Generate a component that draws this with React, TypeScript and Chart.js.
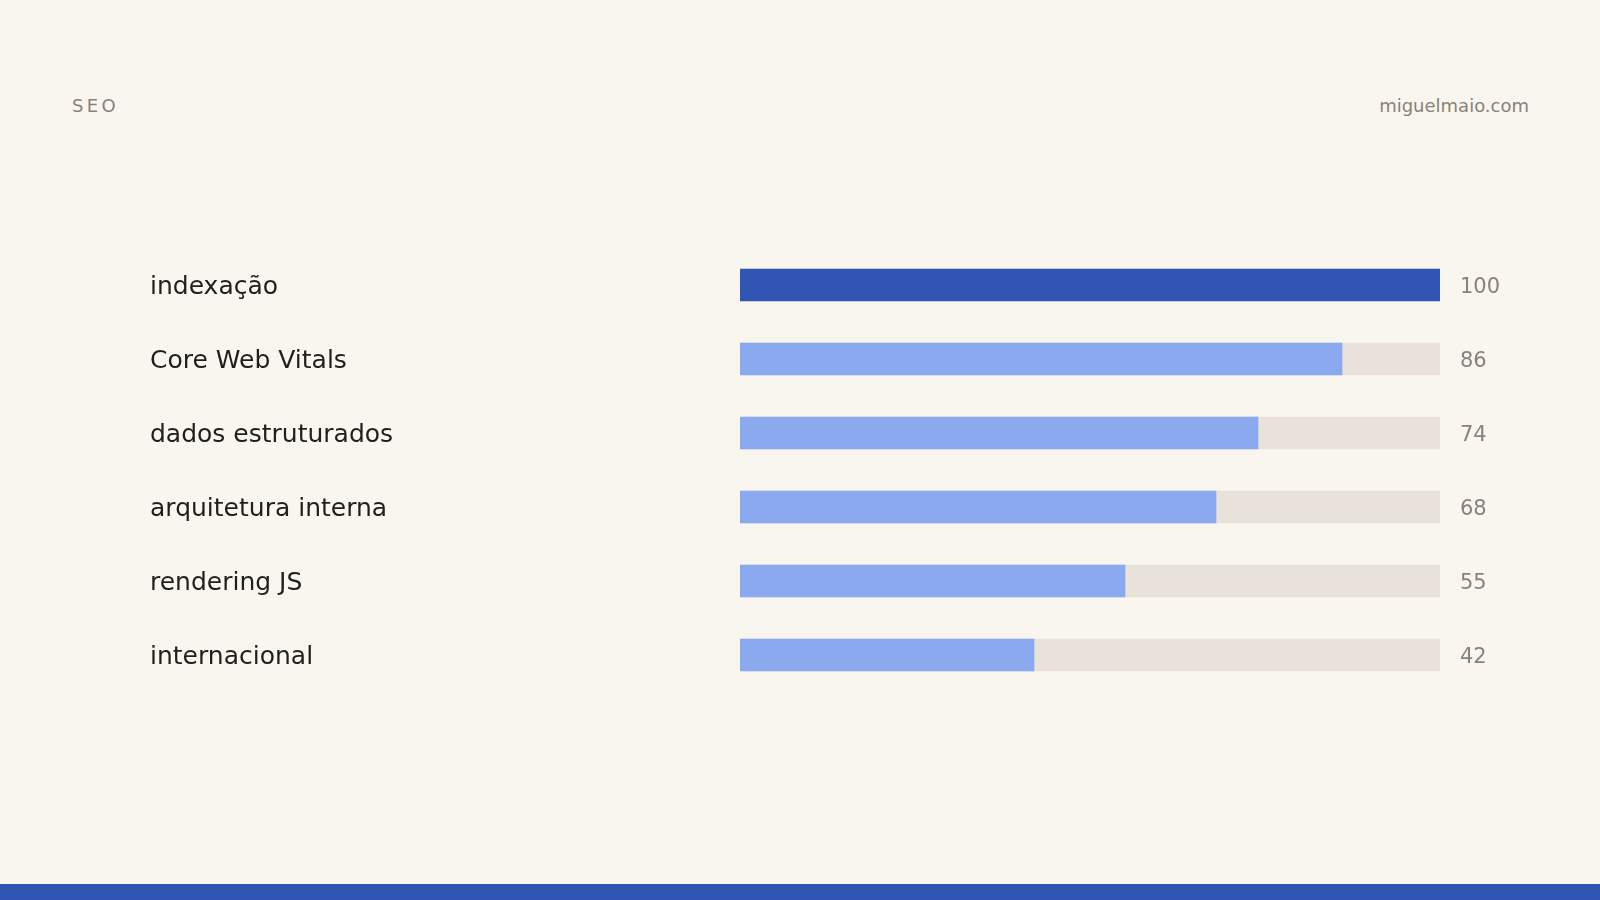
import { Chart, registerables } from "chart.js";
import { useEffect, useRef } from "react";

Chart.register(...registerables);

// dados do gráfico
const categories = [
    "indexação",
    "Core Web Vitals",
    "dados estruturados",
    "arquitetura interna",
    "rendering JS",
    "internacional",
];
const scores = [100, 86, 74, 68, 55, 42];
const trackValues = [100, 100, 100, 100, 100, 100];
const highlighted = "indexação";

const BG = "#f9f6f0";
const DARK_BLUE = "#3155b5";
const LIGHT_BLUE = "#8aa9ef";
const TRACK = "#e8e2da";
const MUTED = "#898276";
const INK = "#221e1b";
const FONT = "'DejaVu Sans', sans-serif";

// escreve o valor à direita de cada barra
const valueLabels = {
    id: "valueLabels",
    afterDatasetsDraw(chart: Chart) {
        const { ctx, chartArea } = chart;
        const yScale = chart.scales.y;
        ctx.save();
        ctx.font = `21px ${FONT}`;
        ctx.fillStyle = MUTED;
        ctx.textAlign = "left";
        ctx.textBaseline = "middle";
        scores.forEach((v, i) => {
            ctx.fillText(String(v), chartArea.right + 20, yScale.getPixelForValue(i) + 3);
        });
        ctx.restore();
    },
};

export default function App() {
    const canvasRef = useRef<HTMLCanvasElement | null>(null);
    const chartRef = useRef<Chart | null>(null);

    useEffect(() => {
        document.body.style.margin = "0";
        const ctx = canvasRef.current?.getContext("2d");
        if (chartRef.current) chartRef.current.destroy();

        chartRef.current = new Chart(ctx!, {
            type: "bar",
            data: {
                labels: categories,
                datasets: [
                    {
                        label: "pontuação",
                        data: scores,
                        backgroundColor: categories.map((c) => (c === highlighted ? DARK_BLUE : LIGHT_BLUE)),
                        grouped: false,
                        barThickness: 32,
                        borderWidth: 0,
                        order: 0,
                    },
                    {
                        label: "trilho",
                        data: trackValues,
                        backgroundColor: TRACK,
                        grouped: false,
                        barThickness: 32,
                        borderWidth: 0,
                        order: 1,
                    },
                ],
            },
            options: {
                indexAxis: "y",
                responsive: false,
                animation: false,
                events: [],
                layout: { padding: { left: 150, right: 160, top: 248, bottom: 208 } },
                plugins: {
                    legend: { display: false },
                    tooltip: { enabled: false },
                },
                scales: {
                    x: { display: false, min: 0, max: 100 },
                    y: {
                        grid: { display: false },
                        border: { display: false },
                        afterFit: (scale: any) => {
                            scale.width = 590;
                        },
                        ticks: {
                            crossAlign: "far",
                            autoSkip: false,
                            labelOffset: 2,
                            color: INK,
                            font: { family: FONT, size: 25 },
                        },
                    },
                },
            },
            plugins: [valueLabels],
        });

        return () => {
            if (chartRef.current) {
                chartRef.current.destroy();
                chartRef.current = null;
            }
        };
    }, []);

    return (
        <div
            style={{
                position: "absolute",
                left: 0,
                top: 0,
                width: 1600,
                height: 900,
                background: BG,
                fontFamily: FONT,
                overflow: "hidden",
            }}
        >
            <div
                style={{
                    position: "absolute",
                    left: 72,
                    top: 95,
                    fontSize: 18,
                    letterSpacing: "3.3px",
                    color: MUTED,
                    lineHeight: "22px",
                }}
            >
                SEO
            </div>
            <div
                style={{
                    position: "absolute",
                    right: 71,
                    top: 95,
                    fontSize: 18,
                    color: MUTED,
                    lineHeight: "22px",
                }}
            >
                miguelmaio.com
            </div>
            <canvas
                ref={canvasRef}
                width="1600"
                height="900"
                style={{ position: "absolute", left: 0, top: 0 }}
            />
            <div
                style={{
                    position: "absolute",
                    left: 0,
                    top: 884,
                    width: 1600,
                    height: 16,
                    background: DARK_BLUE,
                }}
            />
        </div>
    );
}
